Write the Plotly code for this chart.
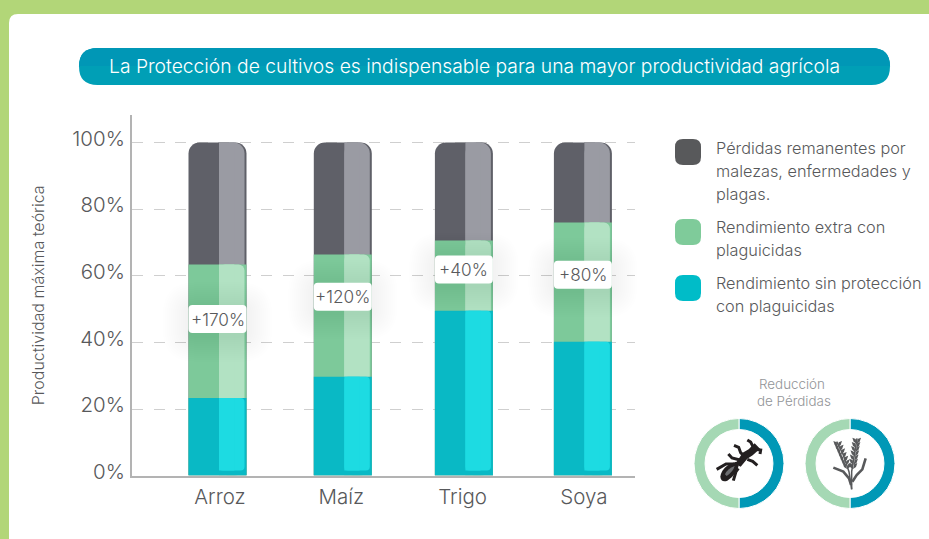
import plotly.graph_objects as go

# ---------- data ----------
categorias = ["Arroz", "Maíz", "Trigo", "Soya"]
sin_proteccion = [23.3, 29.7, 49.5, 40.2]
extra_plaguicidas = [40.1, 36.7, 21.1, 35.8]
perdidas = [36.6, 33.6, 29.4, 24.0]
incremento = ["+170%", "+120%", "+40%", "+80%"]
posicion_etiqueta = [47.0, 53.7, 61.9, 60.3]
y_ticks = [0, 20, 40, 60, 80, 100]
y_tick_labels = ["0%", "20%", "40%", "60%", "80%", "100%"]
reduccion_perdidas = [50, 50]

titulo = "La Protección de cultivos es indispensable para una mayor productividad agrícola"
y_titulo = "Productividad máxima teórica"

# ---------- geometry / style ----------
W, H = 929, 539
PL, PR, PT, PB = 132, 635, 115, 475.6      # plot box in pixels
YMAX = (PB - PT) / 3.33
UNIT = 121.3
X0 = 220.0
XR = [(PL - X0) / UNIT, (PR - X0) / UNIT]
BAR_W = 58 / UNIT
NUDGE = [-2.5 / UNIT, 1.5 / UNIT, 1.3 / UNIT, -1.0 / UNIT]
SPLIT = 1.5 / UNIT
EDGE = 2.0 / UNIT
FONT = "Inter"
TXT = "#58595b"

fx = lambda p: p / W
fy = lambda p: 1 - p / H


def rrect(x0, y0, x1, y1, r):
    a, b, c, d = fx(x0), fy(y0), fx(x1), fy(y1)
    rx, ry = r / W, r / H
    return (f"M{a+rx},{b} L{c-rx},{b} Q{c},{b} {c},{b-ry} L{c},{d+ry} Q{c},{d} {c-rx},{d} "
            f"L{a+rx},{d} Q{a},{d} {a},{d+ry} L{a},{b-ry} Q{a},{b} {a+rx},{b} Z")


def paper_shape(path, fill=None, line=None, lw=0, layer="above", opacity=1):
    return dict(type="path", path=path, xref="paper", yref="paper", layer=layer, opacity=opacity,
                fillcolor=fill if fill else "rgba(0,0,0,0)",
                line=dict(color=line if line else "rgba(0,0,0,0)", width=lw))


shapes = []
# white panel
shapes.append(paper_shape(rrect(9, 14, 960, 570, 9), "#ffffff", layer="below"))
# title pill, two tones
shapes.append(paper_shape(rrect(79, 48, 890, 85, 18.5), "#009fb6", layer="below"))
a, b, c, d = fx(79), fy(48), fx(890), fy(66)
rx, ry = 18.5 / W, 18 / H
shapes.append(paper_shape(
    f"M{a},{d} Q{a},{b} {a+rx},{b} L{c-rx},{b} Q{c},{b} {c},{d} Z", "#0097b6", layer="below"))

# legend swatches
for top, col in [(139, "#58595b"), (219, "#7fcb9a"), (275, "#00bcc8")]:
    shapes.append(paper_shape(rrect(675, top, 701, top + 26, 8), col))

# label boxes and their soft shadows
for i, v in enumerate(posicion_etiqueta):
    cx = X0 + (i + NUDGE[i]) * UNIT
    cy = PB - v * 3.33
    for g in range(26, 0, -2):
        shapes.append(paper_shape(rrect(cx - 29 - g, cy - 14 - g + 3, cx + 29 + g, cy + 14 + g + 3, 6 + g),
                                  "rgba(0,0,0,0.0045)"))
    shapes.append(paper_shape(rrect(cx - 29, cy - 14, cx + 29, cy + 14, 4), "#ffffff"))


# insect icon, drawn in a 3x local frame
def ix(x): return fx(710 + x / 3)
def iy(y): return fy(430 + y / 3)


def local_path(points, close=False, fxx=ix, fyy=iy):
    s = "M" + " L".join(f"{fxx(x)},{fyy(y)}" for x, y in points)
    return s + (" Z" if close else "")


INK = "#231f20"
shapes.append(paper_shape(
    f"M{ix(31)},{iy(140)} Q{ix(38)},{iy(102)} {ix(88)},{iy(94)} Q{ix(86)},{iy(130)} {ix(52)},{iy(152)} "
    f"Q{ix(33)},{iy(158)} {ix(31)},{iy(140)} Z", INK))
shapes.append(paper_shape(
    f"M{ix(45)},{iy(133)} Q{ix(52)},{iy(116)} {ix(74)},{iy(108)} Q{ix(70)},{iy(124)} {ix(50)},{iy(138)} Z",
    "#6d6e71"))
shapes.append(paper_shape(local_path([(76, 102), (98, 68), (116, 58), (134, 40), (150, 56),
                                      (128, 76), (112, 86), (92, 110)], True), INK))
for leg in [[(112, 30), (122, 36), (132, 56)],
            [(150, 72), (152, 60), (134, 58)],
            [(72, 46), (86, 52), (92, 68), (102, 78)],
            [(55, 72), (66, 84), (90, 90)],
            [(112, 88), (128, 94), (142, 106)],
            [(20, 118), (48, 102), (72, 102)],
            [(85, 115), (78, 125), (70, 152)]]:
    shapes.append(paper_shape(local_path(leg), None, INK, 3))


# wheat icon, drawn in a 3x local frame
def wx(x): return fx(825 + x / 3)
def wy(y): return fy(430 + y / 3)


GR = "#58595b"
for stem, lw in [([(35, 35), (55, 75), (72, 125), (80, 178)], 1.5),
                 ([(96, 25), (88, 75), (80, 125), (80, 178)], 1.5),
                 ([(25, 113), (55, 125), (72, 145), (78, 165)], 2.6),
                 ([(122, 85), (112, 118), (95, 135), (82, 155)], 2.6)]:
    shapes.append(paper_shape(local_path(stem, fxx=wx, fyy=wy), None, GR, lw))
for (x0, y0, x1, y1) in [(38, 42, 66, 108), (95, 32, 84, 108)]:
    n = 7
    for k in range(n):
        t = k / (n - 1)
        x, y = x0 + (x1 - x0) * t, y0 + (y1 - y0) * t
        for side in (-1, 1):
            g = [(x, y + 9), (x + side * 9, y + 3), (x + side * 13, y - 9), (x + side * 3, y - 5)]
            shapes.append(paper_shape(local_path(g, True, wx, wy), GR))

# ---------- traces ----------
fig = go.Figure()
cum1 = sin_proteccion
cum2 = [a1 + b1 for a1, b1 in zip(cum1, extra_plaguicidas)]
cum3 = [a1 + b1 for a1, b1 in zip(cum2, perdidas)]

layers = [
    ("Pérdidas remanentes", cum3, "#5f6068", "#9a9ba3", 11, 0),
    ("Rendimiento extra con plaguicidas", cum2, "#7dc99a", "#b2e2c3", 6, 0),
    ("Rendimiento sin protección", cum1, "#09b9c5", "#1ddbe2", 4, 1.5),
]
for name, top, dark, light, rad, base in layers:
    off_full = [n - BAR_W / 2 for n in NUDGE]
    off_light = [n + SPLIT for n in NUDGE]
    w_light = BAR_W / 2 - SPLIT - EDGE
    fig.add_bar(x=categorias, y=top, name=name, offset=off_full, width=BAR_W,
                marker=dict(color=dark, cornerradius=rad, line_width=0), showlegend=False, hoverinfo="skip")
    yl = [t - base for t in top]
    fig.add_bar(x=categorias, y=yl, base=base, offset=off_light, width=w_light,
                marker=dict(color=light, cornerradius=rad, line_width=0), showlegend=False, hoverinfo="skip")
    fig.add_bar(x=categorias, y=yl, base=base, offset=off_light, width=w_light * 0.6,
                marker=dict(color=light, line_width=0), showlegend=False, hoverinfo="skip")

# donuts
for dom in [[694, 784], [805, 895]]:
    fig.add_pie(values=reduccion_perdidas, hole=0.755, sort=False, direction="clockwise", rotation=0,
                marker=dict(colors=["#0098b6", "#a5d8b4"], line=dict(color="#ffffff", width=1)),
                textinfo="none", showlegend=False, hoverinfo="skip",
                domain=dict(x=[fx(dom[0]), fx(dom[1])], y=[fy(508.5), fy(418.5)]))

# ---------- annotations ----------
ann = []


def text(px, py, s, size=16.3, color=TXT, anchor="left", weight=300):
    ann.append(dict(xref="paper", yref="paper", x=fx(px), y=fy(py), text=s, showarrow=False,
                    xanchor=anchor, yanchor="middle",
                    font=dict(family=FONT, size=size, color=color, weight=weight)))


text(474.5, 66, titulo, size=19.3, color="#ffffff", anchor="center")
for py, s in [(148, "Pérdidas remanentes por"), (171, "malezas, enfermedades y"), (194, "plagas."),
              (227, "Rendimiento extra con"), (250, "plaguicidas"),
              (283, "Rendimiento sin protección"), (306, "con plaguicidas")]:
    text(714, py, s)
text(792, 383.5, "Reducción", size=13.4, color="#939598", anchor="center")
text(793.5, 400.5, "de Pérdidas", size=13.4, color="#939598", anchor="center")

for i, s in enumerate(incremento):
    ann.append(dict(xref="x", yref="y", x=i + NUDGE[i], y=posicion_etiqueta[i], text=s, showarrow=False,
                    xanchor="center", yanchor="middle",
                    font=dict(family=FONT, size=17.2, color=TXT, weight=300)))

# ---------- layout ----------
fig.update_layout(
    width=W, height=H, margin=dict(l=0, r=0, t=0, b=0, pad=0, autoexpand=False),
    paper_bgcolor="#b2d678", plot_bgcolor="rgba(0,0,0,0)",
    barmode="overlay", showlegend=False,
    font=dict(family=FONT, color=TXT),
    shapes=shapes, annotations=ann,
    xaxis=dict(domain=[fx(PL), fx(PR)], type="category", range=XR, categoryorder="array",
               categoryarray=categorias, showgrid=False, zeroline=False, ticks="",
               showline=True, linecolor="#b3b3b3", linewidth=2,
               tickfont=dict(family=FONT, size=20.5, color=TXT, weight=300), ticklabelstandoff=2),
    yaxis=dict(domain=[fy(PB), fy(PT)], range=[0, YMAX], tickmode="array", tickvals=y_ticks,
               ticktext=y_tick_labels, zeroline=False, showline=True, linecolor="#b3b3b3", linewidth=2,
               showgrid=True, gridcolor="#cfcfcf", gridwidth=1.3, griddash="11px,10.5px", ticks="",
               tickfont=dict(family=FONT, size=20.5, color=TXT, weight=300), ticklabelstandoff=1,
               ticklabelshift=-4,
               title=dict(text=y_titulo, standoff=24, font=dict(family=FONT, size=16, color=TXT, weight=300))),
)

fig.write_html("out.html", config=dict(displayModeBar=False),
               post_script="document.body.style.margin='0';document.documentElement.style.overflow='hidden';")
